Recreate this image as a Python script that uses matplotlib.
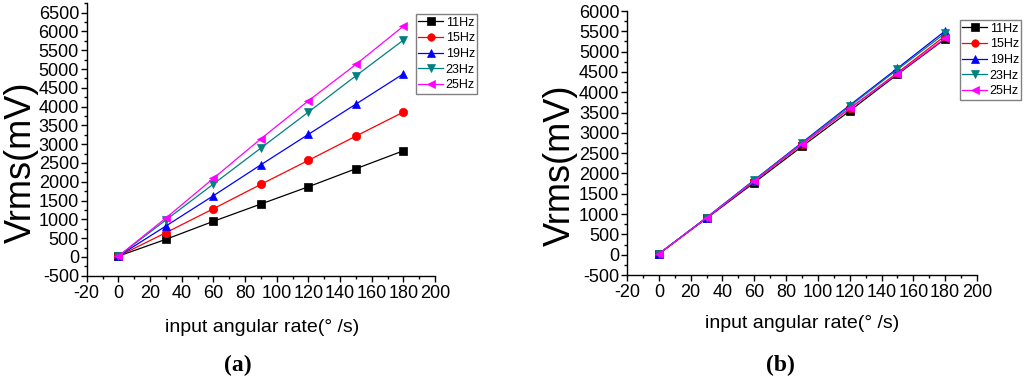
import matplotlib
matplotlib.use("Agg")
import matplotlib.pyplot as plt
from matplotlib.ticker import MultipleLocator

plt.rcParams['font.family'] = ['Liberation Sans', 'DejaVu Sans']
plt.rcParams['axes.unicode_minus'] = False

rate = [0, 30, 60, 90, 120, 150, 180]
labels = ["11Hz", "15Hz", "19Hz", "23Hz", "25Hz"]

a_11 = [20, 468, 947, 1407, 1867, 2346, 2824]
a_15 = [20, 644, 1282, 1931, 2569, 3215, 3854]
a_19 = [20, 822, 1628, 2452, 3261, 4066, 4872]
a_23 = [20, 981, 1939, 2896, 3854, 4819, 5769]
a_25 = [20, 1035, 2090, 3144, 4154, 5122, 6141]

b_11 = [20, 895, 1775, 2665, 3540, 4440, 5315]
b_15 = [20, 905, 1810, 2715, 3600, 4480, 5390]
b_19 = [20, 915, 1840, 2760, 3680, 4590, 5510]
b_23 = [20, 910, 1830, 2745, 3655, 4560, 5455]
b_25 = [20, 905, 1815, 2730, 3600, 4460, 5330]

colors = ["#000000", "#ff0000", "#0000ff", "#008080", "#ff00ff"]
markers = ["s", "o", "^", "v", "<"]

fig = plt.figure(figsize=(10.24, 3.78), dpi=100)
ax1 = fig.add_axes([86.7/1024, 1-275.7/378, (435-86.7)/1024, (275.7-3.3)/378])
ax2 = fig.add_axes([627/1024, 1-275/378, (977-627)/1024, (275-11)/378])


def style(ax, ytop, leg_anchor):
    for s in ["top", "right"]:
        ax.spines[s].set_visible(False)
    for s in ["left", "bottom"]:
        ax.spines[s].set_linewidth(1.0)
    ax.set_xlim(-20, 200)
    ax.set_ylim(-500, ytop)
    ax.xaxis.set_major_locator(MultipleLocator(20))
    ax.xaxis.set_minor_locator(MultipleLocator(10))
    ax.yaxis.set_major_locator(MultipleLocator(500))
    ax.yaxis.set_minor_locator(MultipleLocator(250))
    ax.tick_params(which="major", direction="out", length=4, width=1, pad=1.5)
    ax.tick_params(which="minor", direction="out", length=2.2, width=1)
    ax.tick_params(axis="x", labelsize=13, pad=2.5)
    ax.tick_params(axis="y", labelsize=13)
    leg = ax.legend(loc="upper left", bbox_to_anchor=leg_anchor,
                    bbox_transform=fig.transFigure, fontsize=9,
                    frameon=True, fancybox=False, edgecolor="#606060",
                    handlelength=2.0, handletextpad=0.2, labelspacing=0.3,
                    borderpad=0.2, borderaxespad=0, markerscale=0.9)
    leg.get_frame().set_linewidth(1.0)


for ys, c, m, lab in zip([a_11, a_15, a_19, a_23, a_25], colors, markers, labels):
    ax1.plot(rate, ys, color=c, marker=m, markersize=6, linewidth=0.9,
             markeredgecolor=c, markeredgewidth=0.5, label=lab, clip_on=False)
for ys, c, m, lab in zip([b_11, b_15, b_19, b_23, b_25], colors, markers, labels):
    ax2.plot(rate, ys, color=c, marker=m, markersize=6, linewidth=0.9,
             markeredgecolor=c, markeredgewidth=0.5, label=lab, clip_on=False)

style(ax1, 6750, (415.7/1024, 1-14/378))
style(ax2, 6000, (959.7/1024, 1-20/378))

fig.text(21/1024, 1-162/378, "Vrms(mV)", rotation=90, fontsize=26,
         ha="center", va="center")
fig.text(560/1024, 1-165/378, "Vrms(mV)", rotation=90, fontsize=26,
         ha="center", va="center")
fig.text(262/1024, 1-328/378, "input angular rate(° /s)", fontsize=14,
         ha="center", va="center")
fig.text(802/1024, 1-323/378, "input angular rate(° /s)", fontsize=14,
         ha="center", va="center")
fig.text(238/1024, 1-365/378, "(a)", fontsize=17, fontweight="bold",
         family=["Liberation Serif", "DejaVu Serif"], ha="center", va="center")
fig.text(780/1024, 1-365/378, "(b)", fontsize=17, fontweight="bold",
         family=["Liberation Serif", "DejaVu Serif"], ha="center", va="center")

fig.savefig("out.png", dpi=100)
